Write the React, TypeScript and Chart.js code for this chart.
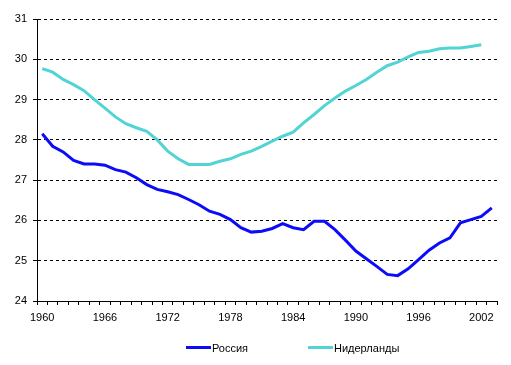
import React, { useEffect, useRef } from "react";
import { Chart, registerables } from "chart.js";

Chart.register(...registerables);

const years = [
  "1960", "1961", "1962", "1963", "1964", "1965", "1966", "1967", "1968", "1969",
  "1970", "1971", "1972", "1973", "1974", "1975", "1976", "1977", "1978", "1979",
  "1980", "1981", "1982", "1983", "1984", "1985", "1986", "1987", "1988", "1989",
  "1990", "1991", "1992", "1993", "1994", "1995", "1996", "1997", "1998", "1999",
  "2000", "2001", "2002", "2003",
];

const russia = [
  28.15, 27.84, 27.7, 27.49, 27.4, 27.4, 27.37, 27.26, 27.2, 27.06,
  26.89, 26.77, 26.71, 26.64, 26.52, 26.39, 26.23, 26.15, 26.02, 25.82,
  25.71, 25.73, 25.8, 25.92, 25.82, 25.77, 25.98, 25.98, 25.77, 25.51,
  25.24, 25.05, 24.86, 24.66, 24.63, 24.8, 25.03, 25.26, 25.44, 25.57,
  25.94, 26.02, 26.1, 26.31,
];

const netherlands = [
  29.77, 29.68, 29.5, 29.37, 29.22, 29.0, 28.79, 28.57, 28.4, 28.3,
  28.21, 28.0, 27.72, 27.53, 27.39, 27.39, 27.39, 27.47, 27.53, 27.64,
  27.72, 27.84, 27.97, 28.09, 28.19, 28.42, 28.63, 28.85, 29.04, 29.21,
  29.35, 29.5, 29.68, 29.84, 29.93, 30.06, 30.17, 30.2, 30.26, 30.28,
  30.28, 30.32, 30.36, null,
];

const seriesNames = ["Россия", "Нидерланды"];
const seriesColors = ["#0c0cf8", "#52d4d4"];

const FONT = "'Liberation Sans', Arial, sans-serif";

export default function App() {
  const ref = useRef<HTMLCanvasElement>(null);

  useEffect(() => {
    document.body.style.margin = "0";
    const ctx = ref.current!;
    const chart = new Chart(ctx, {
      type: "line",
      data: {
        labels: years,
        datasets: [
          {
            label: seriesNames[0],
            data: russia,
            borderColor: seriesColors[0],
            backgroundColor: seriesColors[0],
            borderWidth: 3,
            pointRadius: 0,
            tension: 0,
          },
          {
            label: seriesNames[1],
            data: netherlands,
            borderColor: seriesColors[1],
            backgroundColor: seriesColors[1],
            borderWidth: 3,
            pointRadius: 0,
            tension: 0,
          },
        ],
      },
      options: {
        responsive: false,
        animation: false,
        events: [],
        layout: { padding: { left: 0, right: 14, top: 19, bottom: 34 } },
        plugins: {
          legend: { display: false },
          tooltip: { enabled: false },
        },
        scales: {
          x: {
            type: "category",
            offset: true,
            afterFit: (s: any) => {
              s.height = 30;
            },
            grid: {
              offset: true,
              drawOnChartArea: false,
              drawTicks: true,
              tickLength: 4,
              tickColor: "#000",
              tickWidth: 1,
            },
            border: { color: "#000", width: 1 },
            ticks: {
              autoSkip: false,
              maxRotation: 0,
              minRotation: 0,
              padding: 6,
              color: "#000",
              font: { family: FONT, size: 11 },
              callback: (_v: any, i: number) => (i % 6 === 0 ? years[i] : ""),
            },
          },
          y: {
            min: 24,
            max: 31,
            afterFit: (s: any) => {
              s.width = 37;
            },
            grid: {
              color: "#000",
              lineWidth: 1,
              tickBorderDash: [],
              tickLength: 4,
              tickColor: "#000",
            },
            border: { color: "#000", width: 1, dash: [3, 3] },
            ticks: {
              stepSize: 1,
              padding: 6,
              color: "#000",
              font: { family: FONT, size: 11 },
            },
          },
        },
      },
    });
    return () => chart.destroy();
  }, []);

  const legendItem = (i: number, left: number, textLeft: number) => (
    <React.Fragment key={i}>
      <div
        style={{
          position: "absolute",
          left,
          top: 346,
          width: 25,
          height: 3,
          background: seriesColors[i],
        }}
      />
      <span
        style={{
          position: "absolute",
          left: textLeft,
          top: 341,
          fontFamily: FONT,
          fontSize: 11,
          lineHeight: "14px",
          color: "#000",
          whiteSpace: "nowrap",
        }}
      >
        {seriesNames[i]}
      </span>
    </React.Fragment>
  );

  return (
    <div style={{ position: "relative", width: 511, height: 365, background: "#fff" }}>
      <canvas ref={ref} width={511} height={365} style={{ position: "absolute", left: 0, top: 0 }} />
      {legendItem(0, 186, 212)}
      {legendItem(1, 308, 334)}
    </div>
  );
}
